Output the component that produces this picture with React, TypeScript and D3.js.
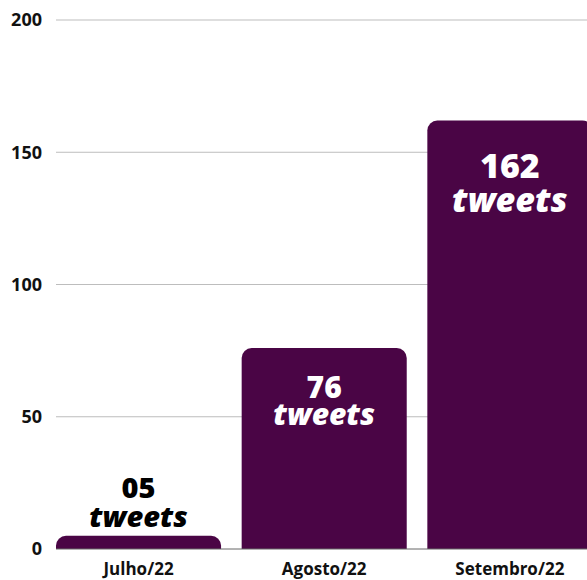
import React from "react";
import * as d3 from "d3";

const categories = ["Julho/22", "Agosto/22", "Setembro/22"];
const values = [5, 76, 162];
const valueLabels = ["05", "76", "162"];
const yTicks = [0, 50, 100, 150, 200];

// label styling (per bar)
const labelFontSizes = [29, 30, 34];
const numOffsets = [-38, 50, 57];
const tweetOffsets = [-9, 77, 91];

const W = 587;
const H = 580;
const BAR = "#4a0545";
const FONT = "'Open Sans', sans-serif";

export default function App() {
  const y = d3.scaleLinear().domain([0, 200]).range([549, 20]);
  const x = d3
    .scaleBand<string>()
    .domain(categories)
    .range([45.7, 602.7])
    .paddingInner(0.111)
    .paddingOuter(0.0555);
  const r = 10;

  const barPath = (x0: number, x1: number, yTop: number, yBot: number) => {
    const rr = Math.min(r, yBot - yTop);
    const p = d3.path();
    p.moveTo(x0, yBot);
    p.lineTo(x0, yTop + rr);
    p.arcTo(x0, yTop, x0 + rr, yTop, rr);
    p.lineTo(x1 - rr, yTop);
    p.arcTo(x1, yTop, x1, yTop + rr, rr);
    p.lineTo(x1, yBot);
    p.closePath();
    return p.toString();
  };

  return (
    <svg
      width={W}
      height={H}
      style={{ position: "absolute", left: 0, top: 0, background: "#fff" }}
      fontFamily={FONT}
    >
      {yTicks.map((t) => (
        <g key={t}>
          {t !== 0 && (
            <line x1={56} x2={W} y1={y(t)} y2={y(t)} stroke="#bdbdbd" strokeWidth={1} />
          )}
          <text
            x={42}
            y={y(t)}
            dy="0.36em"
            textAnchor="end"
            fontSize={18}
            fontWeight={700}
            fill="#111"
          >
            {t}
          </text>
        </g>
      ))}
      {categories.map((c, i) => {
        const x0 = x(c)!;
        const x1 = x0 + x.bandwidth();
        const cx = x0 + x.bandwidth() / 2;
        const yTop = y(values[i]);
        const inside = numOffsets[i] > 0;
        const col = inside ? "#ffffff" : "#000000";
        const fs = labelFontSizes[i];
        return (
          <g key={c}>
            <path d={barPath(x0, x1, yTop, y(0))} fill={BAR} />
            <text
              x={cx}
              y={yTop + numOffsets[i]}
              textAnchor="middle"
              fontSize={fs}
              fontWeight={800}
              fill={col}
            >
              {valueLabels[i]}
            </text>
            <text
              x={cx}
              y={yTop + tweetOffsets[i]}
              textAnchor="middle"
              fontSize={fs}
              fontWeight={800}
              fontStyle="italic"
              fill={col}
            >
              tweets
            </text>
            <text
              x={cx}
              y={575}
              textAnchor="middle"
              fontSize={17}
              fontWeight={700}
              fill="#111"
            >
              {c}
            </text>
          </g>
        );
      })}
      <line x1={56} x2={W} y1={y(0)} y2={y(0)} stroke="#666" strokeWidth={1} />
    </svg>
  );
}
